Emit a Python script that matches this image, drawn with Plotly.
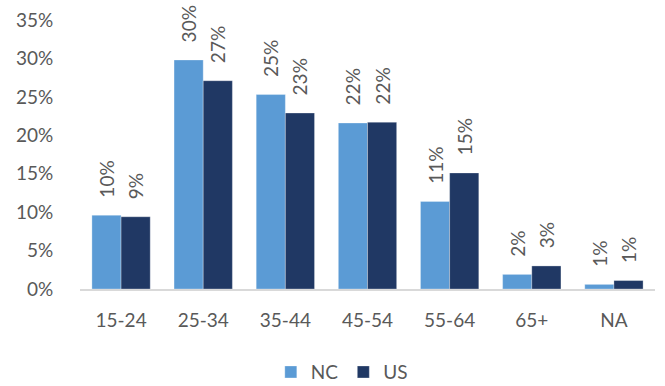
import plotly.graph_objects as go

categories = ["15-24", "25-34", "35-44", "45-54", "55-64", "65+", "NA"]
nc_values = [0.096, 0.298, 0.253, 0.216, 0.114, 0.019, 0.006]
us_values = [0.094, 0.271, 0.229, 0.217, 0.151, 0.030, 0.011]
y_ticks = [0, 0.05, 0.10, 0.15, 0.20, 0.25, 0.30, 0.35]

font_family = "Lato, 'Open Sans', sans-serif"
text_color = "#595959"

fig = go.Figure()
for name, vals, col in [("NC", nc_values, "#5B9BD5"), ("US", us_values, "#203864")]:
    fig.add_trace(go.Bar(
        name=name, x=categories, y=vals,
        marker=dict(color=col, line=dict(color="rgba(255,255,255,0.6)", width=0.5)),
        texttemplate="\u00a0\u00a0\u00a0%{y:.0%}", textposition="outside", textangle=-90,
        constraintext="none",
        textfont=dict(size=19, color=text_color, family=font_family),
        cliponaxis=False,
    ))

fig.update_layout(
    width=665, height=386,
    margin=dict(l=80, r=10, t=20, b=97, autoexpand=False),
    paper_bgcolor="white", plot_bgcolor="white",
    barmode="group", bargap=0.29, bargroupgap=0,
    font=dict(family=font_family, size=19, color=text_color),
    showlegend=True,
    legend=dict(orientation="h", x=0.514, xanchor="center", xref="container",
                y=0.036, yanchor="middle", yref="container",
                font=dict(size=19, color=text_color), itemwidth=30),
)
fig.update_xaxes(
    showline=True, linecolor="#D9D9D9", linewidth=1.5,
    ticks="outside", ticklen=13, tickcolor="rgba(0,0,0,0)",
    tickfont=dict(size=19, color=text_color),
    showgrid=False,
)
fig.update_yaxes(
    range=[0, 0.35], tickvals=y_ticks, tickformat=".0%",
    showgrid=False, zeroline=False, showline=False,
    ticks="outside", ticklen=22, tickcolor="rgba(0,0,0,0)",
    tickfont=dict(size=19, color=text_color),
)

fig.write_html("out.html")
